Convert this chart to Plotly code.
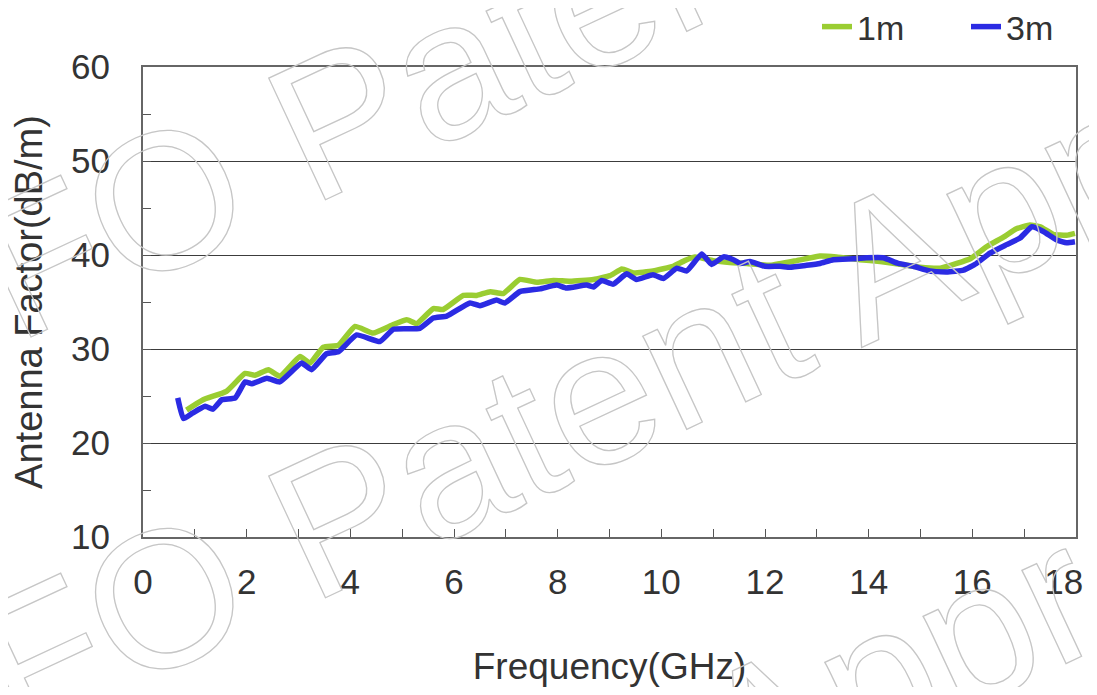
import plotly.graph_objects as go

# ---- data ----
series_names = ["1m", "3m"]

freq_1m = [0.84, 1.16, 1.61, 1.97, 2.16, 2.42, 2.64, 3.03, 3.22, 3.48, 3.77, 4.09, 4.44,
           4.83, 5.09, 5.28, 5.60, 5.79, 6.18, 6.44, 6.70, 6.95, 7.27, 7.60, 7.92, 8.24,
           8.69, 9.01, 9.24, 9.46, 9.84, 10.23, 10.45, 10.65, 11.00, 11.32, 11.65, 12.10,
           12.61, 13.06, 13.38, 13.83, 14.22, 14.61, 14.99, 15.38, 15.70, 15.96, 16.28,
           16.60, 16.85, 17.11, 17.31, 17.56, 17.82, 17.98]
af_1m = [23.5, 24.6, 25.5, 27.4, 27.2, 27.8, 27.1, 29.2, 28.5, 30.2, 30.4, 32.4, 31.7,
         32.6, 33.1, 32.7, 34.3, 34.2, 35.7, 35.7, 36.1, 35.9, 37.4, 37.1, 37.3, 37.2,
         37.4, 37.8, 38.5, 38.1, 38.3, 38.8, 39.4, 39.8, 39.4, 39.2, 39.1, 38.9,
         39.4, 39.9, 39.8, 39.5, 39.3, 39.0, 38.7, 38.6, 39.1, 39.6, 40.9,
         41.9, 42.8, 43.2, 43.0, 42.2, 42.1, 42.3]

freq_3m = [0.67, 0.78, 0.96, 1.20, 1.35, 1.52, 1.78, 1.97, 2.10, 2.39, 2.64, 3.06, 3.25,
           3.54, 3.77, 4.12, 4.57, 4.83, 5.34, 5.60, 5.86, 6.31, 6.50, 6.82, 6.98, 7.27,
           7.66, 7.98, 8.17, 8.56, 8.69, 8.85, 9.07, 9.33, 9.52, 9.84, 10.04, 10.30, 10.49,
           10.78, 10.97, 11.20, 11.39, 11.52, 11.71, 12.00, 12.29, 12.48, 12.80, 13.06,
           13.32, 13.70, 13.96, 14.28, 14.57, 14.86, 15.18, 15.50, 15.83, 16.08, 16.34,
           16.66, 16.92, 17.15, 17.37, 17.63, 17.82, 17.98]
af_3m = [24.8, 22.6, 23.2, 23.9, 23.6, 24.6, 24.8, 26.5, 26.3, 26.9, 26.5, 28.5, 27.8,
         29.5, 29.7, 31.5, 30.8, 32.1, 32.2, 33.3, 33.5, 34.9, 34.6, 35.2, 34.9, 36.1,
         36.4, 36.8, 36.5, 36.8, 36.6, 37.3, 36.9, 38.0, 37.4, 37.9, 37.5, 38.6, 38.3,
         40.1, 39.0, 39.8, 39.5, 39.1, 39.3, 38.8, 38.8, 38.7, 38.9, 39.1,
         39.5, 39.6, 39.7, 39.7, 39.1, 38.8, 38.3, 38.2, 38.4, 39.1, 40.2,
         41.1, 41.8, 43.0, 42.5, 41.6, 41.3, 41.4]

x_tick_vals = [0, 2, 4, 6, 8, 10, 12, 14, 16, 18]
x_tick_text = ["0", "2", "4", "6", "8", "10", "12", "14", "16", "18\u2002\u2009"]
y_tick_vals = [10, 20, 30, 40, 50, 60]
x_title = "Frequency(GHz)"
y_title = "Antenna Factor(dB/m)"
watermark_text = "INFO Patent Approved"

# ---- layout geometry (page has an 8px body margin; avoid any overflow) ----
OFF = 8
W, H = 1097 - 2 * OFF, 695 - 2 * OFF
L, T = 143 - OFF, 67 - OFF
R = W - (1076 - OFF)
B = H - (537 - OFF)
PW, PH = W - L - R, H - T - B


def to_paper(px, py):
    # px, py are screen pixel positions in the reference picture
    return (px - OFF - L) / PW, 1 - (py - OFF - T) / PH


FONT = "Liberation Sans, Arial, sans-serif"
TXT = "#333333"

fig = go.Figure()
fig.add_trace(go.Scatter(
    x=freq_1m, y=af_1m, mode="lines", name=series_names[0],
    line=dict(color="#9ACD32", width=5.5, shape="spline", smoothing=0.4),
))
fig.add_trace(go.Scatter(
    x=freq_3m, y=af_3m, mode="lines", name=series_names[1],
    line=dict(color="#2B2BE3", width=5.5, shape="spline", smoothing=0.4),
))

# watermark (outlined via post_script styling)
for (cx, cy) in [(700, -50), (700, 348), (578, 816)]:
    px_, py_ = to_paper(cx, cy)
    fig.add_annotation(
        text=watermark_text, x=px_, y=py_, xref="paper", yref="paper",
        showarrow=False, textangle=-25, xanchor="center", yanchor="middle",
        font=dict(family="Liberation Sans Narrow, Liberation Sans, Arial", size=195,
                  color="#cfcfcf"),
    )

lx, ly = to_paper(817, 27)
fig.update_layout(
    width=W, height=H,
    margin=dict(l=L, r=R, t=T, b=B, autoexpand=False),
    paper_bgcolor="white", plot_bgcolor="white",
    font=dict(family=FONT, color=TXT),
    showlegend=True,
    legend=dict(
        orientation="h", x=lx, y=ly, xanchor="left", yanchor="middle",
        font=dict(family=FONT, size=34, color=TXT),
        bgcolor="rgba(0,0,0,0)", entrywidth=104, entrywidthmode="pixels",
    ),
    xaxis=dict(
        range=[0, 18], tickmode="array", tickvals=x_tick_vals, ticktext=x_tick_text,
        ticks="inside", ticklen=8, tickcolor="#555", tickwidth=1.2,
        minor=dict(dtick=1, ticks="inside", ticklen=8, tickcolor="#555", tickwidth=1.2, showgrid=False),
        showgrid=False, zeroline=False,
        showline=True, linecolor="#666", linewidth=2, mirror=True,
        tickfont=dict(family=FONT, size=35, color=TXT),
        ticklabelstandoff=13, ticklabeloverflow="allow",
        title=dict(text=x_title, font=dict(family=FONT, size=37, color=TXT), standoff=57),
        automargin=False,
    ),
    yaxis=dict(
        range=[10, 60], tickmode="array", tickvals=y_tick_vals,
        ticks="inside", ticklen=8, tickcolor="#555", tickwidth=1.2,
        minor=dict(dtick=5, ticks="inside", ticklen=8, tickcolor="#555", tickwidth=1.2, showgrid=False),
        showgrid=True, gridcolor="#3c3c3c", gridwidth=1.2, zeroline=False,
        showline=True, linecolor="#666", linewidth=2, mirror=True,
        tickfont=dict(family=FONT, size=35, color=TXT),
        ticklabelstandoff=24,
        title=dict(text=y_title, font=dict(family=FONT, size=38, color=TXT), standoff=22),
        automargin=False,
    ),
)

post = """
var gd = document.getElementById('{plot_id}');
function wm(){
  gd.querySelectorAll('g.annotation').forEach(function(g){
    var i = +g.getAttribute('data-index');
    if (i < 3) {
      g.querySelectorAll('text').forEach(function(t){
        t.style.fill = 'none';
        t.style.stroke = '#c6c6c6';
        t.style.strokeWidth = '1.3px';
      });
    }
  });
}
wm();
gd.on('plotly_afterplot', wm);
"""

fig.write_html("out.html", post_script=post)
